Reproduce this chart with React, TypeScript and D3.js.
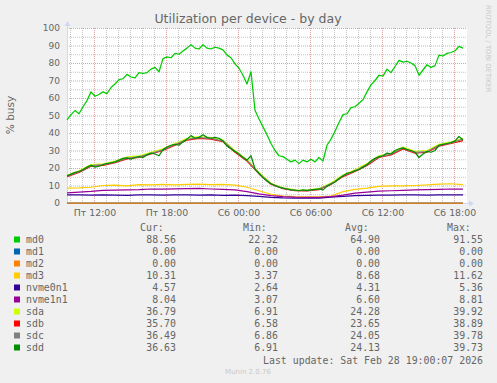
import React from "react";
import * as d3 from "d3";

// time axis: hours since Fri 00:00, 400 px = 33h20m at 5 min/px
const START_HOUR = 9.75;
const END_HOUR = 9.75 + 400 / 12;

const md0 = [
  47.5, 50.5, 52.8, 51.0, 55.0, 58.5, 63.5, 61.0, 62.0, 63.5,
  62.5, 66.0, 68.0, 70.5, 71.0, 73.5, 72.0, 71.5, 74.5, 74.0,
  74.5, 76.5, 77.5, 75.0, 82.5, 83.5, 83.0, 85.5, 85.0, 86.8,
  88.5, 90.5, 88.5, 88.0, 90.5, 88.5, 88.0, 89.0, 88.5, 87.5,
  84.5, 83.0, 79.5, 77.0, 73.0, 68.0, 75.0, 53.0, 48.0, 43.5,
  39.0, 34.0, 30.0, 27.0, 26.5, 25.0, 23.5, 24.5, 22.5, 24.5,
  23.5, 25.0, 23.5, 26.0, 24.0, 33.0, 36.5, 41.0, 46.0, 50.5,
  51.0, 54.5, 55.0, 57.0, 59.0, 63.5, 67.5, 70.0, 73.0, 72.5,
  76.5, 74.5, 78.0, 81.5, 80.5, 81.0, 80.0, 78.5, 73.0, 76.0,
  79.0, 77.5, 78.5, 84.5, 84.0, 85.5, 86.0, 87.0, 89.5, 88.5,
];

const sdd = [
  15.5, 16.5, 17.5, 18.0, 19.0, 20.5, 21.5, 20.5, 21.0, 22.0,
  22.5, 23.0, 23.5, 24.5, 25.5, 25.8, 25.0, 26.0, 26.5, 26.0,
  27.5, 28.5, 28.0, 27.0, 30.5, 32.0, 33.0, 33.5, 33.0, 35.0,
  36.5, 38.5, 37.0, 37.5, 39.0, 37.5, 37.0, 37.5, 37.0, 35.5,
  32.5, 31.0, 29.5, 28.0, 26.0, 24.5, 27.0, 19.5, 17.0, 14.5,
  12.5, 11.0, 10.0, 9.0, 8.5, 8.0, 7.5, 7.3, 7.0, 7.5,
  7.2, 7.5, 7.8, 8.0, 7.5, 9.5, 11.0, 12.0, 14.0, 15.5,
  17.0, 17.5, 18.5, 19.0, 20.5, 22.0, 24.0, 25.5, 26.5, 27.0,
  28.5, 28.0, 30.0, 31.0, 31.5, 30.5, 30.0, 29.0, 26.0, 28.0,
  29.5, 29.0, 30.0, 33.0, 33.5, 34.0, 34.5, 35.5, 38.0, 36.0,
];

const sda = [15.8, 18.4, 22.0, 22.4, 24.0, 26.3, 26.9, 29.0, 30.9, 34.0, 37.0, 38.0, 37.4, 35.9, 29.9, 24.9, 17.4, 11.3, 8.7, 7.5, 7.4, 8.3, 11.4, 16.0, 19.0, 22.5, 27.0, 28.5, 32.0, 29.5, 30.0, 33.5, 35.0, 36.8];
const sdb = [15.1, 17.5, 21.0, 21.5, 23.0, 25.2, 26.0, 28.0, 30.0, 33.0, 35.9, 36.9, 36.5, 35.0, 29.0, 24.0, 16.6, 10.7, 8.2, 7.0, 6.9, 7.7, 10.6, 15.1, 18.0, 21.5, 26.0, 27.5, 30.9, 28.5, 29.0, 32.5, 34.0, 35.7];
const sdc = [15.4, 17.9, 21.4, 21.9, 23.4, 25.6, 26.4, 28.4, 30.4, 33.4, 36.3, 37.3, 36.9, 35.4, 29.4, 24.4, 16.9, 10.9, 8.4, 7.2, 7.1, 7.9, 10.9, 15.4, 18.4, 21.9, 26.4, 27.9, 31.4, 28.9, 29.4, 32.9, 34.4, 36.5];
const md3 = [8.5, 8.6, 9.0, 10.0, 10.2, 9.8, 10.5, 10.3, 10.6, 10.4, 10.6, 10.8, 10.5, 10.6, 10.2, 9.0, 7.0, 5.0, 4.0, 3.6, 3.5, 3.5, 4.0, 6.5, 7.8, 8.5, 9.5, 9.8, 9.8, 10.0, 10.3, 10.8, 11.0, 10.5];
const nvme0n1 = [4.6, 4.6, 4.5, 4.6, 4.5, 4.3, 4.6, 4.6, 4.5, 4.6, 4.6, 4.5, 4.6, 4.4, 4.5, 4.2, 3.8, 3.2, 2.9, 2.8, 2.8, 2.8, 3.3, 3.8, 4.2, 4.4, 4.5, 4.5, 4.6, 4.6, 4.5, 4.6, 4.7, 4.6];
const nvme1n1 = [5.8, 6.2, 6.6, 7.2, 7.4, 7.5, 7.6, 8.0, 8.0, 8.1, 8.2, 8.3, 8.0, 7.8, 7.5, 6.5, 5.2, 4.2, 3.6, 3.3, 3.2, 3.2, 3.6, 4.5, 5.6, 6.2, 6.8, 7.0, 7.2, 7.5, 7.6, 7.8, 8.0, 8.0];
const md1 = [0, 0];
const md2 = [0, 0];

const yTicks = [0, 10, 20, 30, 40, 50, 60, 70, 80, 90, 100];
const xTickHours = [12, 18, 24, 30, 36, 42];
const xTickLabels = ["Пт 12:00", "Пт 18:00", "Сб 00:00", "Сб 06:00", "Сб 12:00", "Сб 18:00"];

const legendNames = ["md0", "md1", "md2", "md3", "nvme0n1", "nvme1n1", "sda", "sdb", "sdc", "sdd"];
const legendColors = ["#00CC00", "#0066B3", "#FF8000", "#FFCC00", "#330099", "#990099", "#CCFF00", "#FF0000", "#808080", "#008F00"];
const legendCur = ["88.56", "0.00", "0.00", "10.31", "4.57", "8.04", "36.79", "35.70", "36.49", "36.63"];
const legendMin = ["22.32", "0.00", "0.00", "3.37", "2.64", "3.07", "6.91", "6.58", "6.86", "6.91"];
const legendAvg = ["64.90", "0.00", "0.00", "8.68", "4.31", "6.60", "24.28", "23.65", "24.05", "24.13"];
const legendMax = ["91.55", "0.00", "0.00", "11.62", "5.36", "8.81", "39.92", "38.89", "39.78", "39.73"];

export default function App() {
  const W = 497, H = 383;
  const x0 = 67, x1 = 467, yTop = 28, yBot = 203;
  const x = d3.scaleLinear().domain([START_HOUR, END_HOUR]).range([x0, x1]);
  const y = d3.scaleLinear().domain([0, 100]).range([yBot, yTop]);

  const fineT = (i: number) => START_HOUR + i / 3;
  const coarseT = (i: number) => START_HOUR + i;
  const mk = (vals: number[], tf: (i: number) => number) =>
    d3.line<number>().x((_, i) => x(tf(i))).y((v) => y(v))(vals) || "";
  const flatT = (i: number) => (i === 0 ? START_HOUR : START_HOUR + 33);

  const series: { name: string; d: string; color: string }[] = [
    { name: "md0", d: mk(md0, fineT), color: legendColors[0] },
    { name: "md1", d: mk(md1, flatT), color: legendColors[1] },
    { name: "md2", d: mk(md2, flatT), color: legendColors[2] },
    { name: "md3", d: mk(md3, coarseT), color: legendColors[3] },
    { name: "nvme0n1", d: mk(nvme0n1, coarseT), color: legendColors[4] },
    { name: "nvme1n1", d: mk(nvme1n1, coarseT), color: legendColors[5] },
    { name: "sda", d: mk(sda, coarseT), color: legendColors[6] },
    { name: "sdb", d: mk(sdb, coarseT), color: legendColors[7] },
    { name: "sdc", d: mk(sdc, coarseT), color: legendColors[8] },
    { name: "sdd", d: mk(sdd, fineT), color: legendColors[9] },
  ];

  const hours = d3.range(10, 43);
  const minorY = d3.range(5, 100, 10);
  const font = "'DejaVu Sans', sans-serif";
  const mono = "'DejaVu Sans Mono', monospace";
  const fc = "#666666";
  const minorGrid = "#C4C4C4";
  const majorGrid = "#E0A0A0";
  const axisC = "#CFD6F8";

  const colX = [176, 278, 380, 483];
  const headX = [140, 243, 345, 447];
  const headers = ["Cur:", "Min:", "Avg:", "Max:"];
  const cols = [legendCur, legendMin, legendAvg, legendMax];

  return (
    <svg width={W} height={H} style={{ position: "absolute", left: 0, top: 0, display: "block" }}>
      <rect x={0} y={0} width={W} height={H} fill="#F0F0F0" />
      <rect x={x0} y={yTop} width={x1 - x0} height={yBot - yTop} fill="#FFFFFF" />
      {/* minor grid */}
      {hours.filter((h) => h % 6 !== 0).map((h) => (
        <line key={"mv" + h} x1={x(h) + 0.5} x2={x(h) + 0.5} y1={yTop} y2={yBot}
          stroke={minorGrid} strokeDasharray="1,1" />
      ))}
      {minorY.map((v) => (
        <line key={"mh" + v} x1={x0} x2={x1} y1={y(v) + 0.5} y2={y(v) + 0.5}
          stroke={minorGrid} strokeDasharray="1,1" />
      ))}
      {/* major grid */}
      {xTickHours.map((h) => (
        <line key={"Mv" + h} x1={x(h) + 0.5} x2={x(h) + 0.5} y1={yTop} y2={yBot}
          stroke={majorGrid} strokeDasharray="1,1" />
      ))}
      {yTicks.filter((v) => v > 0).map((v) => (
        <line key={"Mh" + v} x1={x0} x2={x1} y1={y(v) + 0.5} y2={y(v) + 0.5}
          stroke={majorGrid} strokeDasharray="1,1" />
      ))}
      {/* axes */}
      <line x1={x0 + 0.5} x2={x0 + 0.5} y1={yBot} y2={yTop - 3} stroke={axisC} />
      <path d={`M${x0 - 2.5},${yTop - 2} L${x0 + 0.5},${yTop - 7} L${x0 + 3.5},${yTop - 2} Z`} fill={axisC} />
      <line x1={x0} x2={x1 + 3} y1={yBot + 0.5} y2={yBot + 0.5} stroke={axisC} />
      <path d={`M${x1 + 2},${yBot - 2.5} L${x1 + 7},${yBot + 0.5} L${x1 + 2},${yBot + 3.5} Z`} fill={axisC} />
      {/* series */}
      {series.map((s) => (
        <path key={s.name} d={s.d} fill="none" stroke={s.color} strokeWidth={1.25} strokeLinejoin="round" />
      ))}
      {/* y tick labels */}
      {yTicks.map((v) => (
        <text key={"yt" + v} x={60} y={y(v) + 3.3} textAnchor="end" fontFamily={font} fontSize={9} fill={fc}>{v}</text>
      ))}
      {/* x tick labels */}
      {xTickHours.map((h, i) => (
        <text key={"xt" + h} x={x(h) + 1} y={216} textAnchor="middle" fontFamily={font} fontSize={9.4} fill={fc}>{xTickLabels[i]}</text>
      ))}
      {/* title */}
      <text x={248} y={23} textAnchor="middle" fontFamily={font} fontSize={12.5} fill={fc}>Utilization per device - by day</text>
      {/* y label */}
      <text transform="translate(14,115) rotate(-90)" textAnchor="middle" fontFamily={font} fontSize={10.5} fill={fc}>% busy</text>
      {/* rrdtool watermark */}
      <text transform="translate(485.5,5) rotate(90)" textAnchor="start" fontFamily={font} fontSize={6.8} fill="#C8C8C8">RRDTOOL / TOBI OETIKER</text>
      {/* legend */}
      {headers.map((hd, i) => (
        <text key={hd} x={headX[i]} y={231} fontFamily={mono} fontSize={9.9} fill={fc}>{hd}</text>
      ))}
      {legendNames.map((n, r) => {
        const cy = 239.5 + r * 12;
        return (
          <g key={n}>
            <rect x={14} y={cy - 3} width={6} height={6} fill={legendColors[r]} />
            <text x={26} y={cy + 3.5} fontFamily={mono} fontSize={9.9} fill={fc}>{n}</text>
            {cols.map((c, k) => (
              <text key={k} x={colX[k]} y={cy + 3.5} textAnchor="end" fontFamily={mono} fontSize={9.9} fill={fc}>{c[r]}</text>
            ))}
          </g>
        );
      })}
      <text x={483} y={363.5} textAnchor="end" fontFamily={mono} fontSize={9.9} fill={fc}>Last update: Sat Feb 28 19:00:07 2026</text>
      <text x={248} y={374} textAnchor="middle" fontFamily={font} fontSize={7} fill="#C8C8C8">Munin 2.0.76</text>
    </svg>
  );
}
